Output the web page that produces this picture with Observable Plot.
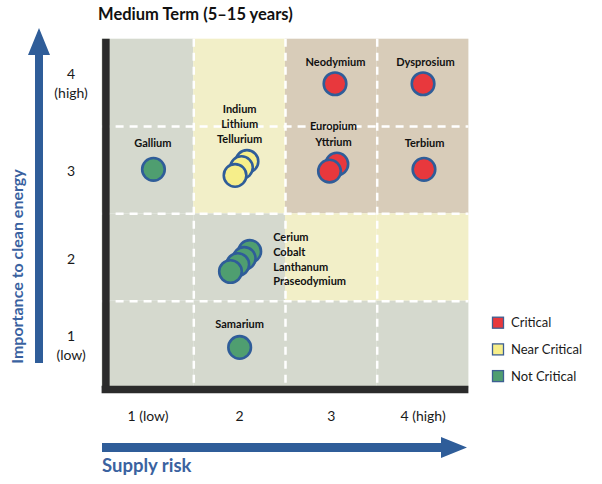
<!DOCTYPE html>
<html>
<head>
<meta charset="utf-8">
<script src="https://cdn.jsdelivr.net/npm/d3@7"></script>
<script src="https://cdn.jsdelivr.net/npm/@observablehq/plot@0.6"></script>
<style>
  html, body { margin: 0; padding: 0; background: #ffffff; }
  #chart svg { display: block; }
</style>
</head>
<body>
<div id="chart"></div>
<script>
// ---- data ----
const title = "Medium Term (5–15 years)";
const xAxisTitle = "Supply risk";
const yAxisTitle = "Importance to clean energy";

const xTicks = [1, 2, 3, 4];
const xTickLabels = ["1 (low)", "2", "3", "4 (high)"];
const yTicks = [1, 2, 3, 4];
const yTickLabels = ["1\n(low)", "2", "3", "4\n(high)"];

const statuses = ["Critical", "Near Critical", "Not Critical"];

// background zones, rows from top (importance 4) to bottom (importance 1), columns supply risk 1..4
const zoneRows = [
  ["Not Critical", "Near Critical", "Critical", "Critical"],
  ["Not Critical", "Near Critical", "Critical", "Critical"],
  ["Not Critical", "Not Critical", "Near Critical", "Near Critical"],
  ["Not Critical", "Not Critical", "Not Critical", "Not Critical"]
];

// elements (drawn back to front)
const elements = ["Dysprosium", "Neodymium", "Terbium", "Yttrium", "Europium",
  "Tellurium", "Lithium", "Indium", "Gallium",
  "Praseodymium", "Lanthanum", "Cobalt", "Cerium", "Samarium"];
const supplyRisk = [4.00, 3.04, 4.01, 3.06, 2.98, 2.08, 2.02, 1.95, 1.06, 2.11, 2.05, 1.98, 1.90, 2.00];
const importance = [3.99, 3.99, 3.01, 3.07, 2.99, 3.10, 3.03, 2.94, 3.01, 2.07, 1.99, 1.92, 1.84, 0.97];
const status = ["Critical", "Critical", "Critical", "Critical", "Critical",
  "Near Critical", "Near Critical", "Near Critical", "Not Critical",
  "Not Critical", "Not Critical", "Not Critical", "Not Critical", "Not Critical"];

// group labels (centered above the points)
const labelText = ["Neodymium", "Dysprosium", "Indium\nLithium\nTellurium", "Europium\nYttrium", "Terbium", "Gallium", "Samarium"];
const labelX = [3.045, 4.026, 2.00, 3.023, 4.016, 1.053, 2.00];
const labelY = [4.246, 4.246, 3.535, 3.424, 3.318, 3.321, 1.245];
// side label (left aligned, right of the points)
const sideLabelText = ["Cerium\nCobalt\nLanthanum\nPraseodymium"];
const sideLabelX = [2.366];
const sideLabelY = [1.987];

// ---- drawing ----
const colors = ["#e8383d", "#f6ee8a", "#4f9e70"];
const zoneColors = {"Critical": "#d8ccb9", "Near Critical": "#f2efc8", "Not Critical": "#d5d9ce"};
const blue = "#2f5d99";
const font = "Lato, 'Open Sans', sans-serif";

const zones = [];
zoneRows.forEach((row, r) => row.forEach((z, c) => zones.push({x: c + 1, y: 4 - r, zone: z})));
const points = elements.map((e, i) => ({name: e, x: supplyRisk[i], y: importance[i], status: status[i]}));

const chart = Plot.plot({
  width: 602,
  height: 484,
  marginLeft: 101.6,
  marginRight: 133.6,
  marginTop: 38.7,
  marginBottom: 96,
  style: {fontFamily: font, background: "#ffffff", overflow: "visible"},
  x: {domain: [0.5, 4.5], axis: null},
  y: {domain: [0.5, 4.5], axis: null},
  color: {domain: statuses, range: colors},
  marks: [
    Plot.rect(zones, {x1: d => d.x - 0.5, x2: d => d.x + 0.5, y1: d => d.y - 0.5, y2: d => d.y + 0.5, fill: d => zoneColors[d.zone]}),
    Plot.ruleX([1.5, 2.5, 3.5], {stroke: "#ffffff", strokeWidth: 2.5, strokeDasharray: "8,6"}),
    Plot.ruleY([1.5, 2.5, 3.5], {stroke: "#ffffff", strokeWidth: 2.5, strokeDasharray: "8,6"}),
    Plot.ruleX([0.5], {stroke: "#2b2b2b", strokeWidth: 7.5, dx: 3.8}),
    Plot.ruleY([0.5], {stroke: "#2b2b2b", strokeWidth: 7.5, dy: 1}),
    Plot.dot(points, {x: "x", y: "y", r: 11.3, fill: "status", stroke: blue, strokeWidth: 2.6}),
    Plot.text(labelText, {x: (d, i) => labelX[i], y: (d, i) => labelY[i], text: d => d,
      fontSize: 11, fontWeight: "bold", lineHeight: 1.38, lineAnchor: "middle", fill: "#111111"}),
    Plot.text(sideLabelText, {x: (d, i) => sideLabelX[i], y: (d, i) => sideLabelY[i], text: d => d,
      fontSize: 11, fontWeight: "bold", lineHeight: 1.34, lineAnchor: "middle", textAnchor: "start", fill: "#111111"}),
    Plot.text(xTicks, {x: d => d, text: (d, i) => xTickLabels[i], frameAnchor: "bottom", dy: 28,
      fontSize: 14, lineAnchor: "middle", fill: "#1a1a1a"}),
    Plot.text(yTicks, {y: d => d, text: (d, i) => yTickLabels[i], frameAnchor: "left", dx: -31,
      fontSize: 14, lineHeight: 1.35, lineAnchor: "middle", textAnchor: "middle", fill: "#1a1a1a"}),
    Plot.text([title], {frameAnchor: "top-left", dx: -4, dy: -24, text: d => d, textAnchor: "start",
      lineAnchor: "middle", fontSize: 16.5, fontWeight: "bold", fill: "#111111"})
  ]
});

document.getElementById("chart").appendChild(chart);

// ---- decorations: axis arrows, axis titles, legend ----
const svg = d3.select(chart);
// vertical arrow
svg.append("path")
  .attr("d", "M35,363 L35,55 L28,55 L39,28 L50,55 L43,55 L43,363 Z")
  .attr("fill", blue);
// horizontal arrow
svg.append("path")
  .attr("d", "M102,443 L441,443 L441,437 L467,447.5 L441,458 L441,452 L102,452 Z")
  .attr("fill", blue);
svg.append("text")
  .attr("transform", "translate(22.5,266.5) rotate(-90)")
  .attr("text-anchor", "middle")
  .attr("font-family", font).attr("font-weight", "bold").attr("font-size", 16)
  .attr("fill", "#3a62a0")
  .text(yAxisTitle);
svg.append("text")
  .attr("x", 102).attr("y", 472)
  .attr("text-anchor", "start")
  .attr("font-family", font).attr("font-weight", "bold").attr("font-size", 18.5)
  .attr("fill", "#3a62a0")
  .text(xAxisTitle);

const color = chart.scale("color");
const legend = svg.append("g");
color.domain.forEach((s, i) => {
  const cy = 322.7 + i * 26.7;
  legend.append("rect")
    .attr("x", 492.5).attr("y", cy - 5.5).attr("width", 11).attr("height", 11)
    .attr("fill", color.range[i]).attr("stroke", "#3d5f92").attr("stroke-width", 1.3);
  legend.append("text")
    .attr("x", 511).attr("y", cy).attr("dy", "0.35em")
    .attr("text-anchor", "start")
    .attr("font-family", font).attr("font-size", 13).attr("fill", "#1a1a1a")
    .text(s);
});
</script>
</body>
</html>
